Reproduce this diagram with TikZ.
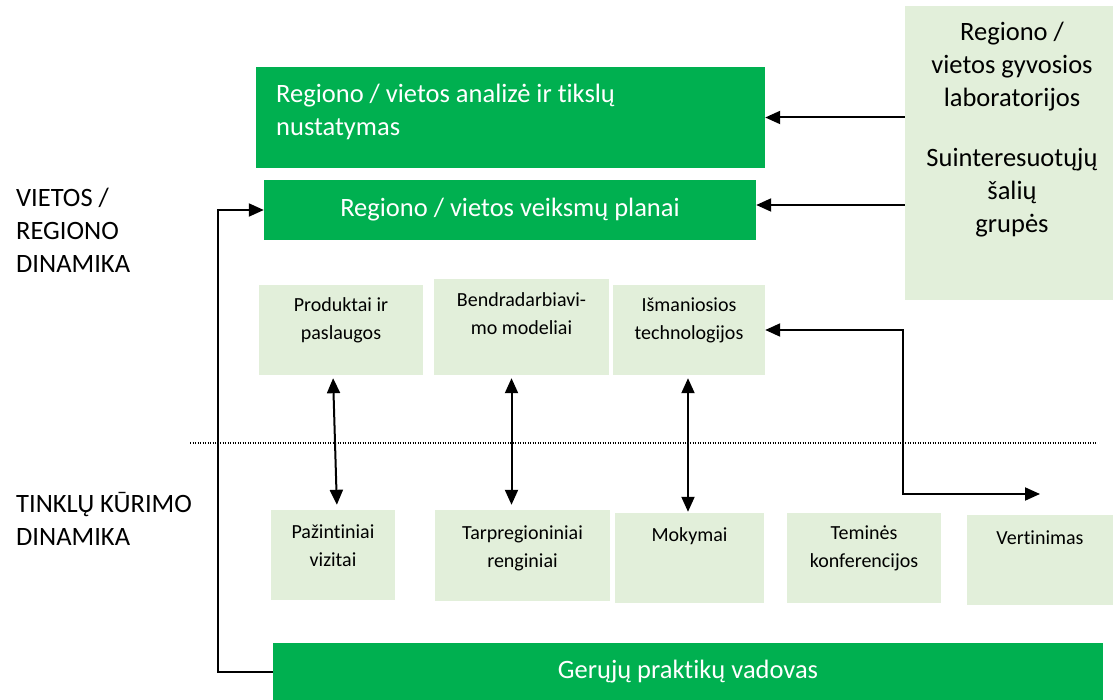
\documentclass[tikz,border=0pt]{standalone}
\usepackage{fontspec}
\setmainfont{Carlito}[Ligatures={NoCommon}]
\usetikzlibrary{arrows.meta}
\definecolor{dg}{HTML}{00B050}
\definecolor{lg}{HTML}{E2EFDA}
\begin{document}
\begin{tikzpicture}[x=1pt,y=-1pt,
  dbox/.style={fill=dg, draw=none, inner sep=0pt, text=white},
  lbox/.style={fill=lg, draw=none, inner sep=0pt},
  bigtxt/.style={font=\fontsize{26.5}{33}\selectfont, align=center, inner sep=0pt},
  smalltxt/.style={font=\fontsize{20}{28}\selectfont, align=center, inner sep=0pt},
  arr/.style={-{Triangle[width=13pt,length=15pt]}, line width=2pt},
  darr/.style={{Triangle[width=13pt,length=15pt]}-{Triangle[width=13pt,length=15pt]}, line width=2pt}]
\useasboundingbox (0,0) rectangle (1113,700);
% green boxes
\node[dbox, minimum width=509pt, minimum height=101pt] (ana) at (510.5,117.5) {};
\node[bigtxt, text=white, anchor=west, align=left] (anat) at (276,111.5) {Regiono / vietos analizė ir tikslų\\nustatymas};
\node[dbox, bigtxt, minimum width=492pt, minimum height=60pt] (plan) at (510,210) {Regiono / vietos veiksmų planai};
\node[dbox, bigtxt, minimum width=830pt, minimum height=57pt] (guide) at (688,671.5) {Gerųjų praktikų vadovas};
% right box
\node[lbox, minimum width=208pt, minimum height=294pt] (rl) at (1009,153) {};
\node[bigtxt] (rlt1) at (1012,67) {Regiono /\\vietos gyvosios\\laboratorijos};
\node[bigtxt] (rlt2) at (1012,193) {Suinteresuotųjų\\šalių\\grupės};
% left labels
\node[bigtxt, anchor=west, align=left] (lab1) at (16,230) {VIETOS /\\REGIONO\\DINAMIKA};
\node[bigtxt, anchor=west, align=left] (lab2) at (16,518.5) {TINKLŲ KŪRIMO\\DINAMIKA};
% middle boxes
\node[lbox, minimum width=164pt, minimum height=90pt] (prod) at (341,330) {};
\node[smalltxt] (prodt) at (341,320) {Produktai ir\\paslaugos};
\node[lbox, minimum width=175pt, minimum height=96pt] (bend) at (521.5,327) {};
\node[smalltxt] (bendt) at (521.5,313.5) {Bendradarbiavi-\\mo modeliai};
\node[lbox, minimum width=152pt, minimum height=90pt] (ism) at (689,330) {};
\node[smalltxt] (ismt) at (689,320) {Išmaniosios\\technologijos};
% bottom boxes
\node[lbox, minimum width=124pt, minimum height=90pt] (paz) at (333,555) {};
\node[smalltxt] (pazt) at (333,546) {Pažintiniai\\vizitai};
\node[lbox, minimum width=175pt, minimum height=91pt] (tarp) at (522.5,555.5) {};
\node[smalltxt] (tarpt) at (522.5,548) {Tarpregioniniai\\renginiai};
\node[lbox, minimum width=149pt, minimum height=90pt] (mok) at (689.5,558) {};
\node[smalltxt] (mokt) at (689.5,536) {Mokymai};
\node[lbox, minimum width=154pt, minimum height=90pt] (tem) at (864,558) {};
\node[smalltxt] (temt) at (864,548.5) {Teminės\\konferencijos};
\node[lbox, minimum width=146pt, minimum height=90pt] (vert) at (1040,560) {};
\node[smalltxt] (vertt) at (1040,538) {Vertinimas};
% dotted separator
\coordinate (dl) at (190,443);
\coordinate (dr) at (1097,443);
\draw[line width=1.2pt, dash pattern=on 1.2pt off 1.3pt] (dl) -- (dr);
% connectors
\draw[arr] (rl.west |- ana.east) -- (ana.east);
\draw[arr] (rl.west |- 0,205) -- (plan.east |- 0,205);
\draw[arr] (guide.west) -- ++(-55,0) |- (plan.west);
\draw[darr, shorten <=3pt, shorten >=5pt] ([xshift=-8pt]prod.south) -- ([xshift=4pt]paz.north);
\draw[darr, shorten <=3pt, shorten >=5pt] ([xshift=-10pt]bend.south) -- ([xshift=-11pt]tarp.north);
\draw[darr, shorten <=3pt, shorten >=1pt] ([xshift=-1pt]ism.south) -- ([xshift=-1.5pt]mok.north);
\coordinate (vend) at (1040,494);
\draw[darr] (ism.east) -- ++(138,0) |- (vend);
\end{tikzpicture}
\end{document}
